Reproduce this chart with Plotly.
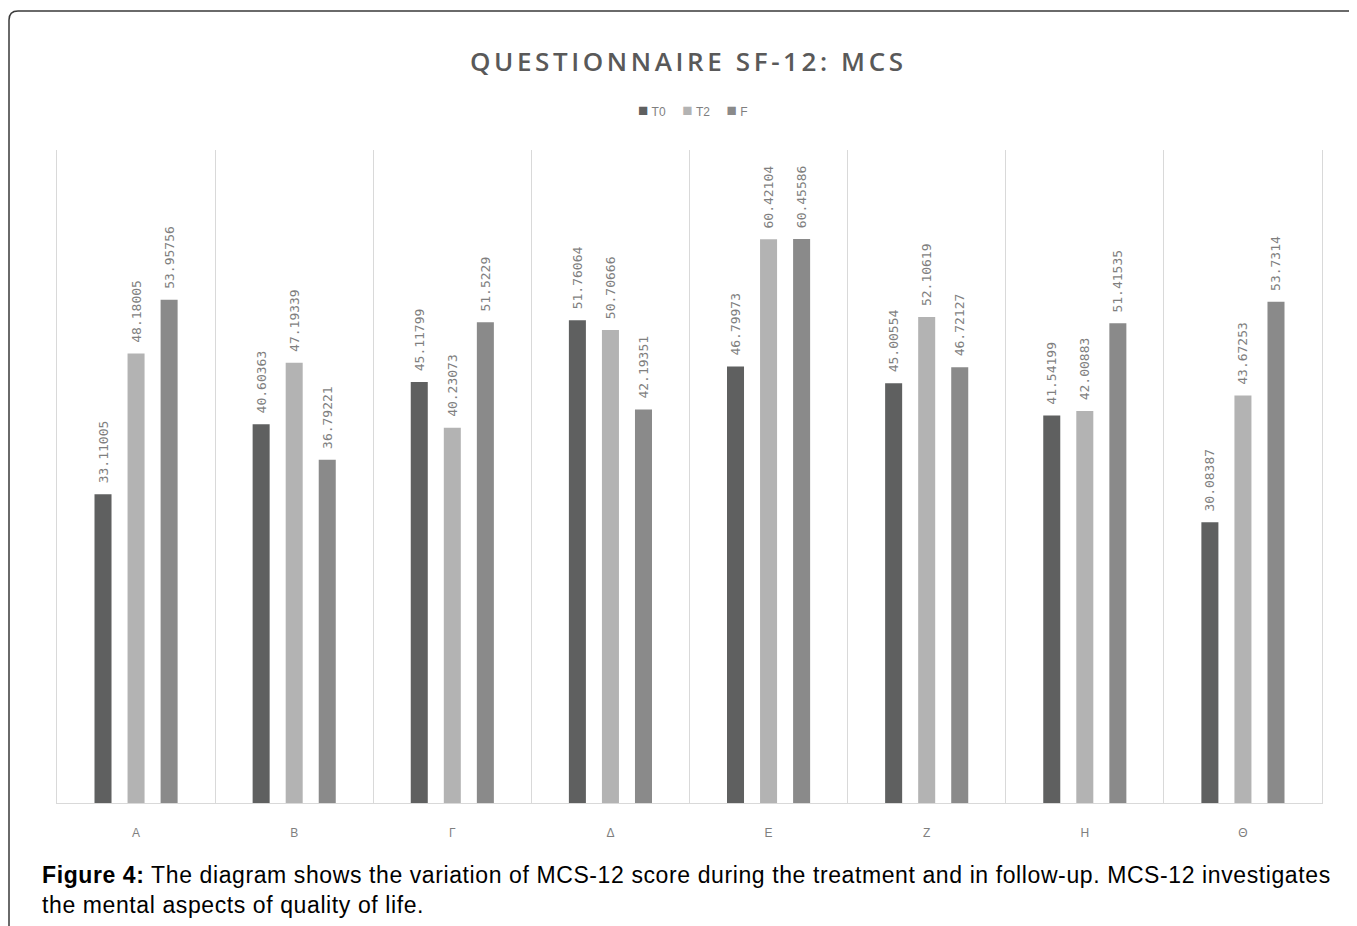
import plotly.graph_objects as go

# page body has an 8px margin, so the figure is shifted by OFF pixels
OFF = 8
W, H = 1357 - OFF, 926 - OFF

categories = ["Α", "Β", "Γ", "Δ", "Ε", "Ζ", "Η", "Θ"]
t0 = [33.11005, 40.60363, 45.11799, 51.76064, 46.79973, 45.00554, 41.54199, 30.08387]
t2 = [48.18005, 47.19339, 40.23073, 50.70666, 60.42104, 52.10619, 42.00883, 43.67253]
f_ = [53.95756, 36.79221, 51.5229, 42.19351, 60.45586, 46.72127, 51.41535, 53.7314]
series_names = ["T0", "T2", "F"]
series_colors = ["#5f6060", "#b3b3b3", "#8a8a8a"]

fig = go.Figure()
for name, vals, col in zip(series_names, [t0, t2, f_], series_colors):
    fig.add_trace(go.Bar(
        name=name, x=categories, y=vals,
        marker=dict(color=col, line=dict(width=0)),
        text=["\u00a0" + str(v) for v in vals],
        textposition="outside", textangle=-90,
        constraintext="none", cliponaxis=False,
        textfont=dict(family="DejaVu Sans Mono", size=13, color="#7f7f7f"),
        showlegend=False,
    ))

px = lambda x: (x - OFF) / W
py = lambda y: 1 - (y - OFF) / H

fig.update_layout(
    width=W, height=H,
    margin=dict(l=0, r=0, t=0, b=0),
    paper_bgcolor="white", plot_bgcolor="white",
    barmode="group", bargap=0.373, bargroupgap=0.485,
    xaxis=dict(domain=[px(57), px(1322)], tickson="boundaries", ticks="",
               showgrid=True, gridcolor="#d9d9d9", gridwidth=1,
               showline=True, linecolor="#d9d9d9", linewidth=1,
               tickfont=dict(family="Liberation Sans", size=12, color="#7f7f7f"),
               ticklabelstandoff=19, anchor="y"),
    yaxis=dict(domain=[py(803), py(150)], range=[0, 70], showgrid=False,
               showticklabels=False, zeroline=False,
               showline=True, mirror=True, linecolor="#d9d9d9", linewidth=1),
    font=dict(family="Liberation Sans"),
)

fig.add_annotation(
    x=px(688), y=py(61), xref="paper", yref="paper", showarrow=False,
    text="<span style='letter-spacing:3.6px'>QUESTIONNAIRE SF-12: MCS</span>",
    font=dict(family="Open Sans", size=26, color="#595959", weight=600),
    xanchor="center", yanchor="middle",
)

# legend drawn as text
nb = "\u00a0"
legend_parts = []
for name, col in zip(series_names, series_colors):
    legend_parts.append(f"<span style='color:{col};font-size:17px'>■</span>{nb}{name}")
fig.add_annotation(
    x=px(693), y=py(110), xref="paper", yref="paper", showarrow=False,
    text=(nb * 5).join(legend_parts),
    font=dict(family="Liberation Sans", size=12, color="#7f7f7f"),
    xanchor="center", yanchor="middle",
)

fig.add_annotation(
    x=px(40), y=py(876), xref="paper", yref="paper", showarrow=False, align="left",
    text="<span style='letter-spacing:0.6px'><b>Figure 4:</b> The diagram shows the variation of MCS-12 score during the treatment and in follow-up. MCS-12 investigates</span><br><span style='letter-spacing:0.6px'>the mental aspects of quality of life.</span>",
    font=dict(family="Liberation Sans", size=23, color="#000000"),
    xanchor="left", yanchor="middle", yshift=-14,
)
# frame
fig.add_shape(
    type="path", xref="paper", yref="paper",
    path=f"M {px(9)},{py(940)} L {px(9)},{py(20)} Q {px(9)},{py(11)} {px(18)},{py(11)} L {px(1370)},{py(11)}",
    line=dict(color="#3a3a3a", width=1.5),
)

fig.write_html("out.html")
